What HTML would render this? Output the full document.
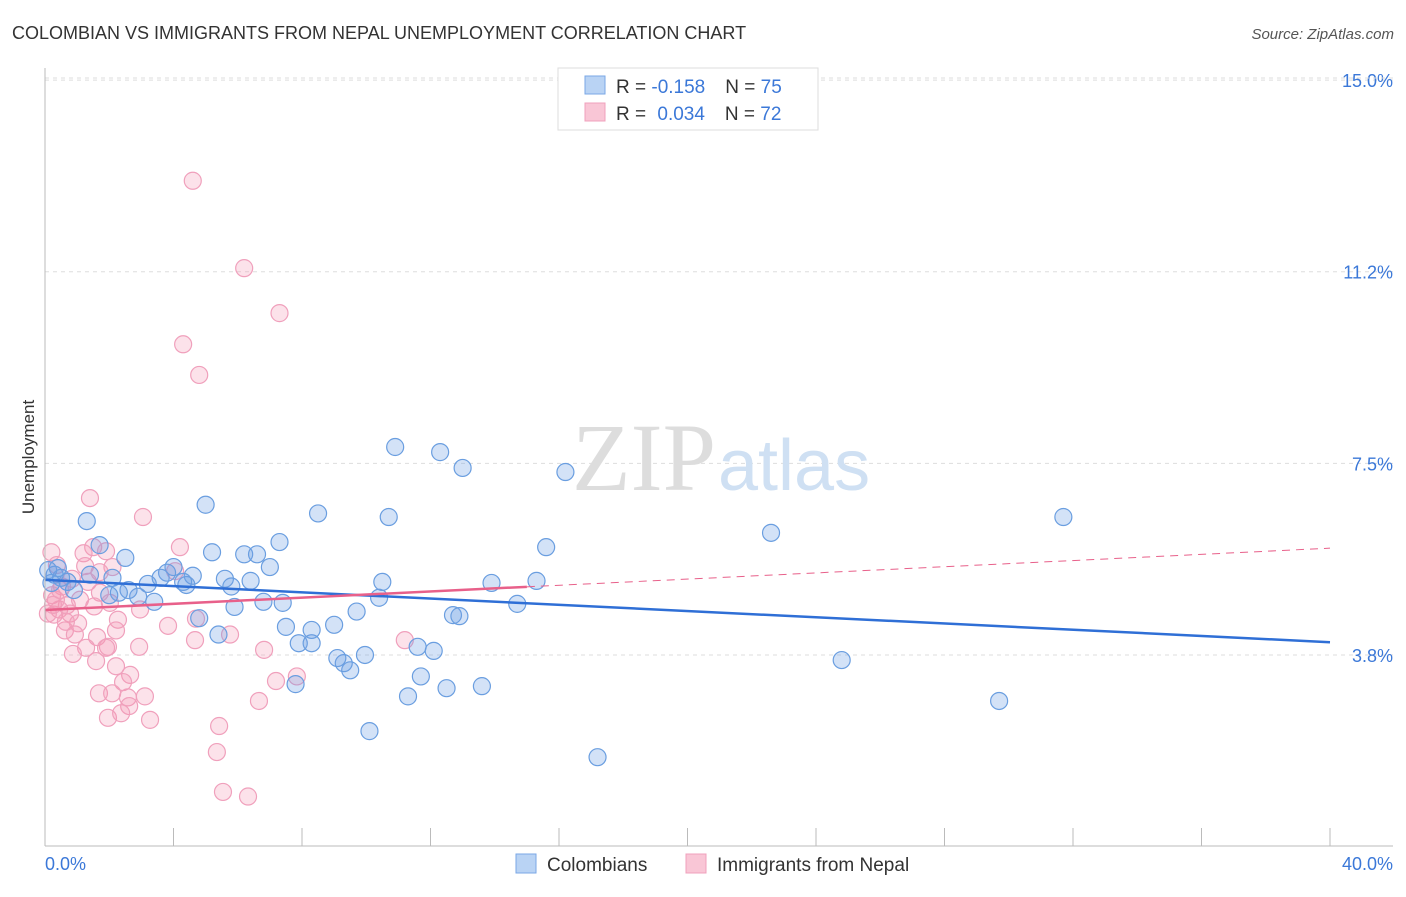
<!DOCTYPE html>
<html><head><meta charset="utf-8"><style>
body{margin:0;background:#fff;font-family:"Liberation Sans",sans-serif}
</style></head><body>
<svg id="chart" width="1406" height="892" viewBox="0 0 1406 892" style="font-family:'Liberation Sans',sans-serif">
<text x="12" y="39" font-size="18" fill="#333">COLOMBIAN VS IMMIGRANTS FROM NEPAL UNEMPLOYMENT CORRELATION CHART</text>
<text x="1394" y="39" font-size="15" fill="#555" font-style="italic" text-anchor="end">Source: ZipAtlas.com</text>
<g id="grid"></g>
<text x="716" y="490" font-size="96" fill="#ddd" font-family="'Liberation Serif',serif" text-anchor="end">ZIP</text>
<text x="718" y="490" font-size="72" fill="#cfe0f3">atlas</text>
<g id="pts"></g>
<g id="trend"></g>
<line x1="45" y1="68" x2="45" y2="846" stroke="#bbb"/>
<line x1="45" y1="846" x2="1393" y2="846" stroke="#bbb"/>
<text transform="translate(34,457) rotate(-90)" font-size="17" fill="#333" text-anchor="middle">Unemployment</text>
<text x="45" y="870" font-size="18" fill="#3b78d8">0.0%</text>
<text x="1393" y="870" font-size="18" fill="#3b78d8" text-anchor="end">40.0%</text>
<g>
<rect x="558" y="68" width="260" height="62" fill="#fff" stroke="#ddd"/>
<rect x="585" y="76" width="20" height="18" fill="#b9d3f4" stroke="#7aa7e6"/>
<rect x="585" y="103" width="20" height="18" fill="#f9c6d6" stroke="#f0a0bc"/>
<text x="616" y="93" font-size="19" fill="#333">R = <tspan fill="#3b78d8">-0.158</tspan><tspan dx="20">N = </tspan><tspan fill="#3b78d8">75</tspan></text>
<text x="616" y="120" font-size="19" fill="#333">R = <tspan fill="#3b78d8" dx="6">0.034</tspan><tspan dx="20">N = </tspan><tspan fill="#3b78d8">72</tspan></text>
</g>
<g>
<rect x="516" y="854" width="20" height="19" fill="#b9d3f4" stroke="#7aa7e6"/>
<text x="547" y="871" font-size="19" fill="#333">Colombians</text>
<rect x="686" y="854" width="20" height="19" fill="#f9c6d6" stroke="#f0a0bc"/>
<text x="717" y="871" font-size="19" fill="#333">Immigrants from Nepal</text>
</g>
</svg>
<script>
const NS="http://www.w3.org/2000/svg";
const yTicks=[3.75,7.5,11.25,15.0];
const yTickLabels=["3.8%","7.5%","11.2%","15.0%"];
const xTicks=[0,4,8,12,16,20,24,28,32,36,40];
const blueX=[1.3,1.7,2.5,5.0,5.2,6.2,6.6,7.3,7.0,8.5,10.7,10.9,12.3,13.0,16.2,15.6,22.6,31.7,24.8,29.7,17.2,10.1,13.6,12.5,11.3,11.7,12.1,11.6,9.96,9.5,9.3,9.1,7.8,7.9,8.3,7.5,9.0,8.3,9.7,10.4,10.5,12.7,12.9,13.9,14.7,15.3,5.9,6.8,7.4,6.4,5.6,5.8,4.8,5.4,4.6,4.4,4.3,4.0,3.8,3.6,3.4,3.2,2.9,2.6,2.3,2.0,2.1,1.4,0.9,0.7,0.5,0.3,0.2,0.1,0.4];
const blueY=[6.37,5.9,5.65,6.69,5.76,5.72,5.72,5.96,5.47,6.52,6.45,7.82,7.72,7.41,7.33,5.86,6.14,6.45,3.65,2.85,1.75,2.26,3.14,3.10,2.94,3.33,3.83,3.91,3.75,3.45,3.59,3.69,3.18,3.98,3.98,4.30,4.34,4.24,4.60,4.87,5.18,4.53,4.51,5.16,4.75,5.20,4.69,4.79,4.77,5.20,5.24,5.09,4.47,4.15,5.30,5.12,5.18,5.47,5.36,5.26,4.79,5.14,4.89,5.02,4.97,4.92,5.26,5.32,5.02,5.18,5.26,5.32,5.16,5.41,5.45];
const pinkX=[4.6,6.2,7.3,4.3,4.8,1.4,3.05,4.2,1.5,1.9,0.2,1.2,2.1,0.37,1.7,4.05,1.34,0.84,0.53,1.71,0.22,0.68,0.44,0.28,0.78,1.03,0.62,0.93,2.27,2.21,3.83,4.7,5.76,4.67,1.62,1.28,0.87,1.96,1.9,2.93,6.82,11.2,1.59,2.21,2.65,2.43,1.68,2.09,2.58,3.11,2.62,1.96,2.37,3.27,7.19,7.84,6.66,5.42,5.35,5.54,6.32,0.34,0.47,1.25,2.02,1.09,0.65,2.96,0.09,0.25,1.53];
const pinkY=[13.03,11.32,10.44,9.83,9.23,6.82,6.45,5.86,5.86,5.78,5.76,5.74,5.47,5.51,5.37,5.39,5.18,5.24,5.09,4.97,4.92,4.72,4.64,4.54,4.56,4.37,4.23,4.15,4.44,4.23,4.32,4.46,4.15,4.04,4.1,3.89,3.77,3.91,3.89,3.91,3.85,4.04,3.63,3.53,3.36,3.22,3.0,3.0,2.92,2.94,2.75,2.52,2.61,2.48,3.24,3.33,2.85,2.36,1.85,1.07,0.98,4.83,5.02,5.49,4.77,4.83,4.4,4.64,4.56,4.73,4.7];
const blueTrend=[5.22,4.0];
const pinkTrend=[4.63,5.84];
const pinkSolidEnd=15;
function xs(v){return 45+v*32.125;}
function ys(v){return 846.6-v*51.1;}
function mk(tag,attrs,parent){const e=document.createElementNS(NS,tag);for(const k in attrs)e.setAttribute(k,attrs[k]);parent.appendChild(e);return e;}
const grid=document.getElementById('grid');
yTicks.forEach((t,i)=>{
  const l=mk('line',{x1:45,x2:1393,y1:ys(t),y2:ys(t),stroke:'#ddd','stroke-dasharray':'4,4'},grid);
  
  
  const tx=mk('text',{x:1393,y:ys(t)+7,'font-size':18,fill:'#3b78d8','text-anchor':'end'},grid);
  tx.textContent=yTickLabels[i];
  
  
});
const topLine=mk('line',{x1:45,x2:1393,y1:78,y2:78,stroke:'#ddd','stroke-dasharray':'4,4'},grid);


xTicks.forEach(t=>{
  const l=mk('line',{x1:xs(t),x2:xs(t),y1:828,y2:846,stroke:'#bbb'},grid);
  
  
});
const pts=document.getElementById('pts');
pinkX.forEach((x,i)=>{
  const c=mk('circle',{cx:xs(x),cy:ys(pinkY[i]),r:8.5,fill:'rgba(244,150,180,0.28)',stroke:'#f0a0bc','stroke-width':1.2},pts);
  
  
});
blueX.forEach((x,i)=>{
  const c=mk('circle',{cx:xs(x),cy:ys(blueY[i]),r:8.5,fill:'rgba(110,160,230,0.3)',stroke:'#6a9ee0','stroke-width':1.2},pts);
  
  
});
const tr=document.getElementById('trend');
const bl=mk('line',{x1:xs(0),y1:ys(blueTrend[0]),x2:xs(40),y2:ys(blueTrend[1]),stroke:'#2f6fd6','stroke-width':2.5},tr);


const pm=pinkTrend[0]+(pinkTrend[1]-pinkTrend[0])*pinkSolidEnd/40;
const pl=mk('line',{x1:xs(0),y1:ys(pinkTrend[0]),x2:xs(pinkSolidEnd),y2:ys(pm),stroke:'#e8608a','stroke-width':2.5},tr);


const pd=mk('line',{x1:xs(pinkSolidEnd),y1:ys(pm),x2:xs(40),y2:ys(pinkTrend[1]),stroke:'#e8608a','stroke-width':1,'stroke-dasharray':'8,6'},tr);


</script>
</body></html>
